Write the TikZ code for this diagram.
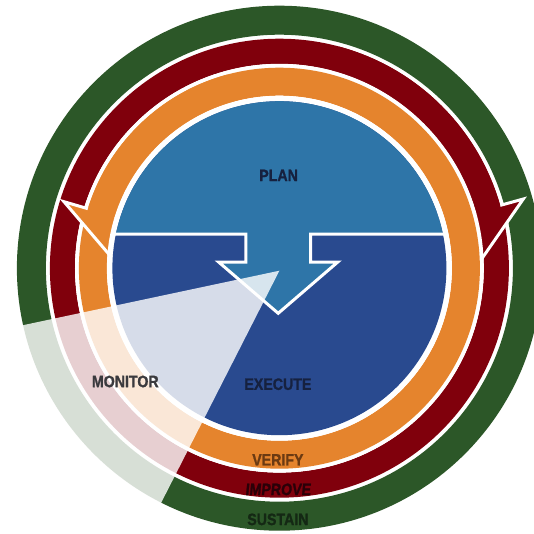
\documentclass[tikz,border=0pt]{standalone}
\usepackage{fontspec}
\setmainfont{Liberation Sans}[FakeStretch=0.86, BoldFeatures={FakeBold=1.2}]
\definecolor{cgreen}{HTML}{2C5728}
\definecolor{cred}{HTML}{80000C}
\definecolor{corange}{HTML}{E5842D}
\definecolor{clblue}{HTML}{2E75A8}
\definecolor{cdblue}{HTML}{294A8F}
\definecolor{tnavy}{HTML}{16213F}
\definecolor{tbrown}{HTML}{6B3A12}
\definecolor{tdred}{HTML}{2A0008}
\definecolor{tdgreen}{HTML}{142814}
\definecolor{tgray}{HTML}{3A3A3E}
\begin{document}
\begin{tikzpicture}[x=1pt,y=1pt,
  headstyle/.style={draw=white, line width=3pt, line join=miter},
  lbl/.style={font=\fontsize{16.5}{17}\selectfont\bfseries, inner sep=0pt}]
\useasboundingbox (-279.4,-264.8) rectangle (254.6,268.2);
\clip (-279.4,-264.8) rectangle (254.6,268.2);
% green ring
\fill[cgreen, even odd rule] (0,0) circle[radius=262.5pt] (0,0) circle[radius=233.5pt];
% red ring with head
\fill[cred, even odd rule] (0,0) circle[radius=229.5pt] (0,0) circle[radius=204.4pt];
\filldraw[fill=cred, headstyle] (243.9,69.2) -- (189.75,-8.7) -- (173,49.6) -- cycle;
\fill[cred] (15.2:204.4pt) arc[start angle=15.2, end angle=75, radius=204.4pt]
   -- (75:229.5pt) arc[start angle=75, end angle=15.2, radius=229.5pt] -- cycle;
\fill[white] (0,0) circle[radius=204.4pt];
% orange ring with head
\fill[corange, even odd rule] (0,0) circle[radius=200.5pt] (0,0) circle[radius=172.5pt];
\filldraw[fill=corange, headstyle] (-215.4,66.5) -- (-163.4,5.7) -- (-152.6,48.1) -- cycle;
\fill[corange] (105:172.5pt) arc[start angle=105, end angle=163.5, radius=172.5pt]
   -- (163.5:200.5pt) arc[start angle=163.5, end angle=105, radius=200.5pt] -- cycle;
\fill[white] (0,0) circle[radius=172.5pt];
% blue disk
\fill[cdblue] (0,0) circle[radius=167pt];
\begin{scope}
  \clip (0,0) circle[radius=167pt];
  \fill[clblue] (-170,34) rectangle (170,170);
\end{scope}
% central arrow
\fill[clblue] (-33.5,34) -- (-33.5,6.2) -- (-60.8,6.2) -- (-1.2,-45.1) -- (58.4,6.2) -- (31.1,6.2) -- (31.1,34) -- cycle;
\draw[white, line width=3pt, line join=miter] (-166,34) -- (-33.5,34) -- (-33.5,6.2) -- (-60.8,6.2) -- (-1.2,-45.1) -- (58.4,6.2) -- (31.1,6.2) -- (31.1,34) -- (166,34);
% pale monitor wedge
\fill[white, opacity=0.81] (0,-2.5) -- +(192:300pt) -- +(243:300pt) -- cycle;
% labels
\node[lbl, text=tnavy] (plan) at (-0.8,92.8) {PLAN};
\node[lbl, text=tnavy] (execute) at (-1.5,-116) {EXECUTE};
\node[lbl, text=tgray] (monitor) at (-154.1,-113.3) {MONITOR};
\node[lbl, text=tbrown] (verify) at (-1.5,-191.6) {VERIFY};
\node[lbl, text=tdred] (improve) at (-1.5,-221.2) {\addfontfeature{FakeSlant=0.1}IMPROVE};
\node[lbl, text=tdgreen] (sustain) at (-1.5,-251.2) {SUSTAIN};
\end{tikzpicture}
\end{document}
